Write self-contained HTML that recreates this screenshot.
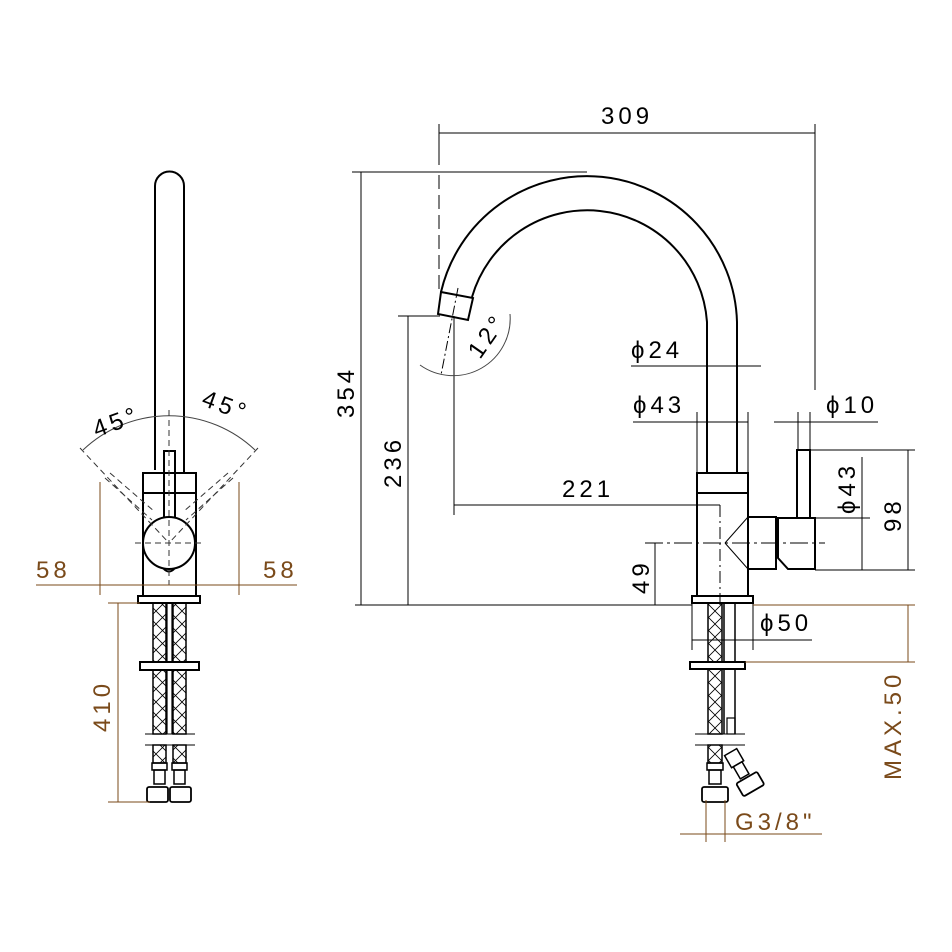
<!DOCTYPE html>
<html><head><meta charset="utf-8"><style>
html,body{margin:0;padding:0;background:#fff}
svg{display:block}
text{font-family:"Liberation Sans",sans-serif;font-size:24px;letter-spacing:4px}
.b{fill:#7a4a1a}
</style></head><body>
<svg width="952" height="952" viewBox="0 0 952 952" xmlns="http://www.w3.org/2000/svg">
<defs>
<pattern id="x" width="13" height="13" patternUnits="userSpaceOnUse"><path d="M0 0L13 13M13 0L0 13" stroke="#000" stroke-width="0.8"/></pattern>
</defs>
<g fill="none" stroke="#000" stroke-width="2">
<!-- LEFT VIEW -->
<path d="M155 470 V186 A14.5 14.5 0 0 1 184 186 V473"/>
<rect x="143" y="473" width="53" height="123"/>
<line x1="143" y1="493" x2="196" y2="493"/>
<path d="M164 520 V451 H175 V520"/>
<circle cx="169" cy="543" r="26" fill="#fff"/>
<path d="M163 568 Q169 575 175 568" />
<rect x="138" y="596" width="62" height="7"/>
<rect x="153" y="603" width="13" height="131" fill="url(#x)" stroke-width="1.5"/>
<rect x="173" y="603" width="13" height="131" fill="url(#x)" stroke-width="1.5"/>
<line x1="167" y1="603" x2="167" y2="734" stroke-width="1.2"/><line x1="172" y1="603" x2="172" y2="734" stroke-width="1.2"/>
<rect x="140" y="662" width="59" height="8" fill="#fff"/>
<rect x="153" y="745" width="13" height="18" fill="url(#x)" stroke-width="1.5"/>
<rect x="173" y="745" width="13" height="18" fill="url(#x)" stroke-width="1.5"/>
<rect x="152" y="763" width="15" height="7" stroke-width="1.5"/><rect x="172" y="763" width="15" height="7" stroke-width="1.5"/>
<rect x="154" y="770" width="11" height="14" stroke-width="1.5"/><rect x="174" y="770" width="11" height="14" stroke-width="1.5"/>
<rect x="147" y="787" width="21" height="15" rx="2" stroke-width="1.8"/><rect x="170" y="787" width="21" height="15" rx="2" stroke-width="1.8"/>
</g>
<g fill="none" stroke="#000" stroke-width="1">
<line x1="145" y1="734" x2="195" y2="734"/><line x1="145" y1="745" x2="195" y2="745"/>
<path d="M83 450 A125 125 0 0 1 255 450" stroke="#444"/>
<g stroke-dasharray="6 4" stroke="#333">
<line x1="169" y1="410" x2="169" y2="585"/>
<line x1="80" y1="448" x2="169" y2="543"/><line x1="258" y1="448" x2="169" y2="543"/>
<line x1="105" y1="478" x2="152" y2="520"/><line x1="233" y1="478" x2="186" y2="520"/>
<line x1="110" y1="473" x2="155" y2="512"/><line x1="228" y1="473" x2="183" y2="512"/>
<line x1="135" y1="543" x2="205" y2="543"/>
</g>
</g>
<g stroke="#7a4a1a" stroke-width="1" fill="none">
<line x1="36" y1="585" x2="297" y2="585"/>
<line x1="100" y1="482" x2="100" y2="595"/><line x1="239" y1="482" x2="239" y2="595"/>
<line x1="118" y1="603" x2="118" y2="802"/>
<line x1="108" y1="603" x2="140" y2="603"/><line x1="108" y1="802" x2="150" y2="802"/>
</g>
<text x="36" y="578" class="b">58</text>
<text x="263" y="578" class="b">58</text>
<text x="92" y="432" transform="rotate(-20 110 422)">45°</text>
<text x="200" y="412" transform="rotate(20 220 410)">45°</text>
<text class="b" transform="translate(110 732) rotate(-90)">410</text>

<!-- RIGHT VIEW -->
<g fill="none" stroke="#000" stroke-width="2">
<path d="M737 473 V322 A150 150 0 0 0 441 292"/>
<path d="M707 473 V322 A120 120 0 0 0 472 297"/>
<path d="M441 292 L473 298 L468 320 L438 314 Z" fill="#fff"/>
<rect x="697" y="473" width="51" height="123"/>
<line x1="697" y1="493" x2="748" y2="493"/>
<path d="M748 517 H776 V569 H748"/>
<line x1="748" y1="517" x2="725" y2="543" stroke-width="1"/><line x1="748" y1="569" x2="725" y2="543" stroke-width="1"/>
<path d="M778 518 H815 V569 H788 L778 558 Z"/>
<rect x="797" y="450" width="13" height="68"/>
<rect x="692" y="596" width="61" height="7"/>
<rect x="708" y="603" width="14" height="131" fill="url(#x)" stroke-width="1.5"/>
<path d="M724 603 V734 M735 603 V734" stroke-width="1.5"/>
<rect x="727" y="718" width="8" height="16" stroke-width="1.2"/>
<rect x="690" y="662" width="55" height="7" fill="#fff"/>
<rect x="708" y="745" width="14" height="18" fill="url(#x)" stroke-width="1.5"/>
<rect x="707" y="763" width="16" height="7" stroke-width="1.5"/>
<rect x="709" y="770" width="12" height="14" stroke-width="1.5"/>
<rect x="702" y="787" width="26" height="15" rx="2" stroke-width="1.8"/>
<g transform="rotate(-30 745 775)">
<rect x="737" y="748" width="14" height="14" stroke-width="1.5"/>
<rect x="739" y="762" width="10" height="14" stroke-width="1.5"/>
<rect x="733" y="778" width="24" height="15" rx="2" stroke-width="1.8"/>
</g>
</g>
<g fill="none" stroke="#000" stroke-width="1">
<line x1="695" y1="734" x2="745" y2="734"/><line x1="695" y1="745" x2="745" y2="745"/>
<line x1="355" y1="605" x2="692" y2="605"/>
<line x1="439" y1="124" x2="439" y2="165"/><line x1="439" y1="175" x2="439" y2="292" stroke-dasharray="14 6"/>
<line x1="815" y1="124" x2="815" y2="390"/>
<line x1="439" y1="133" x2="815" y2="133"/>
<line x1="352" y1="172" x2="587" y2="172"/>
<line x1="361" y1="172" x2="361" y2="605"/>
<line x1="398" y1="316" x2="440" y2="316"/>
<line x1="408" y1="316" x2="408" y2="605"/>
<line x1="454" y1="316" x2="454" y2="515"/>
<line x1="454" y1="505" x2="720" y2="505"/>
<line x1="720" y1="505" x2="720" y2="608" stroke-dasharray="12 4 2 4"/>
<path d="M510 314 A57 57 0 0 1 420 365" stroke="#444"/>
<line x1="458" y1="288" x2="441" y2="375" stroke-dasharray="10 3 2 3"/>
<line x1="631" y1="366" x2="761" y2="366"/>
<line x1="633" y1="422" x2="748" y2="422"/>
<line x1="697" y1="412" x2="697" y2="473"/><line x1="748" y1="412" x2="748" y2="473"/>
<line x1="774" y1="422" x2="878" y2="422"/>
<line x1="798" y1="412" x2="798" y2="450"/><line x1="810" y1="412" x2="810" y2="450"/>
<line x1="810" y1="450" x2="915" y2="450"/><line x1="815" y1="570" x2="915" y2="570"/>
<line x1="908" y1="450" x2="908" y2="570"/>
<line x1="815" y1="518" x2="870" y2="518"/><line x1="862" y1="457" x2="862" y2="570"/>
<line x1="645" y1="543" x2="825" y2="543" stroke-dasharray="18 4 3 4"/>
<line x1="655" y1="543" x2="655" y2="605"/>
<line x1="692" y1="598" x2="692" y2="650"/><line x1="753" y1="598" x2="753" y2="650"/>
<line x1="692" y1="640" x2="812" y2="640"/>
</g>
<g stroke="#7a4a1a" stroke-width="1" fill="none">
<line x1="753" y1="605" x2="915" y2="605"/>
<line x1="745" y1="662" x2="915" y2="662"/>
<line x1="908" y1="605" x2="908" y2="662"/>
<line x1="680" y1="834" x2="822" y2="834"/>
<line x1="706" y1="800" x2="706" y2="842"/><line x1="725" y1="800" x2="725" y2="842"/>
</g>
<text x="601" y="124">309</text>
<text transform="translate(354 418) rotate(-90)">354</text>
<text transform="translate(401 488) rotate(-90)">236</text>
<text x="562" y="497">221</text>
<text transform="translate(480 360) rotate(-55)">12°</text>
<text x="631" y="358">ϕ24</text>
<text x="633" y="413">ϕ43</text>
<text x="826" y="413">ϕ10</text>
<text transform="translate(855 514) rotate(-90)">ϕ43</text>
<text transform="translate(901 532) rotate(-90)">98</text>
<text transform="translate(649 594) rotate(-90)">49</text>
<text x="760" y="631">ϕ50</text>
<text class="b" transform="translate(901 780) rotate(-90)">MAX.50</text>
<text class="b" x="735" y="830">G3/8"</text>
</svg>
</body></html>
